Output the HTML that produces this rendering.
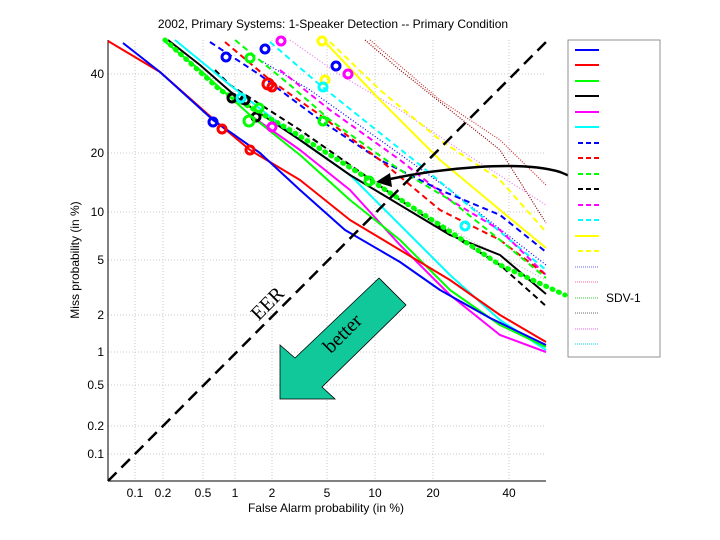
<!DOCTYPE html>
<html><head><meta charset="utf-8"><style>
html,body{margin:0;padding:0;background:#fff;}
svg{display:block;font-family:"Liberation Sans",sans-serif;}
</style></head><body>
<svg width="720" height="540" viewBox="0 0 720 540" xmlns="http://www.w3.org/2000/svg">
<rect width="720" height="540" fill="#fff"/>
<text x="333" y="28" font-size="12" text-anchor="middle">2002, Primary Systems: 1-Speaker Detection -- Primary Condition</text>
<!-- grid -->
<g stroke="#bbb" stroke-width="0.8" stroke-dasharray="1,2">
<line x1="135" y1="40" x2="135" y2="481"/><line x1="163" y1="40" x2="163" y2="481"/>
<line x1="203" y1="40" x2="203" y2="481"/><line x1="235" y1="40" x2="235" y2="481"/>
<line x1="272" y1="40" x2="272" y2="481"/><line x1="327" y1="40" x2="327" y2="481"/>
<line x1="375" y1="40" x2="375" y2="481"/><line x1="433" y1="40" x2="433" y2="481"/>
<line x1="509" y1="40" x2="509" y2="481"/>
<line x1="108" y1="74" x2="546" y2="74"/><line x1="108" y1="153" x2="546" y2="153"/>
<line x1="108" y1="212" x2="546" y2="212"/><line x1="108" y1="260" x2="546" y2="260"/>
<line x1="108" y1="315" x2="546" y2="315"/><line x1="108" y1="352" x2="546" y2="352"/>
<line x1="108" y1="385" x2="546" y2="385"/><line x1="108" y1="426" x2="546" y2="426"/>
<line x1="108" y1="454" x2="546" y2="454"/>
</g>
<g stroke="#000" stroke-width="1">
<line x1="108" y1="40" x2="108" y2="481"/><line x1="108" y1="481" x2="546" y2="481"/>
</g>
<g font-size="12" text-anchor="middle">
<text x="135" y="497">0.1</text><text x="163" y="497">0.2</text><text x="203" y="497">0.5</text>
<text x="235" y="497">1</text><text x="272" y="497">2</text><text x="327" y="497">5</text>
<text x="375" y="497">10</text><text x="433" y="497">20</text><text x="509" y="497">40</text>
</g>
<g font-size="12" text-anchor="end">
<text x="104" y="78">40</text><text x="104" y="157">20</text><text x="104" y="216">10</text>
<text x="104" y="264">5</text><text x="104" y="319">2</text><text x="104" y="356">1</text>
<text x="104" y="389">0.5</text><text x="104" y="430">0.2</text><text x="104" y="458">0.1</text>
</g>
<text x="326" y="512" font-size="12" text-anchor="middle">False Alarm probability (in %)</text>
<text transform="translate(79,260) rotate(-90)" font-size="12" text-anchor="middle">Miss probability (in %)</text>

<!-- curves -->
<g fill="none" stroke-width="2" stroke-linejoin="round">
<polyline stroke="#bbb" stroke-dasharray="1,2" stroke-width="1.2" points="200,70 260,110 330,150 400,200 470,240 546,280"/>
<polyline stroke="#800" stroke-dasharray="1,1.5" stroke-width="1.2" points="365,40 400,70 450,110 500,150 546,223"/>
<polyline stroke="#c33" stroke-dasharray="1,1.5" stroke-width="1.2" points="370,40 440,100 500,140 546,185"/>
<polyline stroke="#e7e" stroke-dasharray="1,2" stroke-width="1.2" points="290,40 340,75 400,110 460,150 546,205"/>
<polyline stroke="#00f" stroke-dasharray="1,2" stroke-width="1.2" points="260,60 310,90 380,140 450,190 546,265"/>
<polyline stroke="#ff0" points="325,42 380,100 440,160 500,210 546,248"/>
<polyline stroke="#ff0" stroke-dasharray="6,4" points="330,42 380,90 440,140 500,180 546,232"/>
<polyline stroke="#0ff" stroke-dasharray="6,4" points="270,42 320,85 370,125 420,165 480,215 546,270"/>
<polyline stroke="#f0f" stroke-dasharray="6,4" points="280,70 330,110 400,160 450,200 500,230 546,275"/>
<polyline stroke="#00f" stroke-dasharray="6,4" points="210,42 260,75 320,120 380,160 440,190 500,215 546,252"/>
<polyline stroke="#f00" stroke-dasharray="6,4" points="225,42 270,80 320,115 380,160 440,210 500,240 546,275"/>
<polyline stroke="#0f0" stroke-dasharray="6,4" points="235,40 290,85 330,120 400,170 450,200 500,240 546,278"/>
<polyline stroke="#000" stroke-dasharray="6,4" points="215,70 230,85 300,130 400,200 460,240 500,265 546,306"/>
<polyline stroke="#0ff" points="175,40 230,85 300,140 350,175 400,225 450,275 500,320 546,350"/>
<polyline stroke="#f0f" points="250,115 300,150 350,190 400,245 450,295 500,335 546,352"/>
<polyline stroke="#000" points="168,40 200,65 240,100 300,140 350,175 400,205 450,235 500,255 546,294"/>
<polyline stroke="#0f0" points="163,40 200,70 250,115 300,155 350,200 400,240 450,290 500,325 546,347"/>
<polyline stroke="#f00" points="108,41 160,72 220,125 250,150 300,180 350,220 400,250 450,280 500,315 546,342"/>
<polyline stroke="#00f" points="123,43 160,72 213,120 260,153 300,190 345,230 400,262 440,290 490,318 546,345"/>
<polyline stroke="#0f0" stroke-dasharray="1,6" stroke-width="5" stroke-linecap="round" points="165,40 220,90 290,130 370,180 440,225 500,265 565,295"/>
</g>
<!-- markers -->
<g fill="none" stroke-width="3">
<circle cx="226" cy="57" r="4" stroke="#00f"/><circle cx="265" cy="49" r="4" stroke="#00f"/>
<circle cx="336" cy="66" r="4" stroke="#00f"/><circle cx="213" cy="122" r="4" stroke="#00f"/>
<circle cx="281" cy="41" r="4" stroke="#f0f"/><circle cx="348" cy="74" r="4" stroke="#f0f"/>
<circle cx="322" cy="41" r="4" stroke="#ff0"/><circle cx="325" cy="80" r="4" stroke="#ff0"/>
<circle cx="222" cy="129" r="4" stroke="#f00"/><circle cx="250" cy="150" r="4" stroke="#f00"/>
<circle cx="268" cy="84" r="5" stroke="#f00"/><circle cx="272" cy="87" r="4" stroke="#f00"/>
<circle cx="232" cy="98" r="4" stroke="#000"/><circle cx="256" cy="117" r="4" stroke="#000"/>
<circle cx="245" cy="100" r="4" stroke="#000"/><circle cx="250" cy="58" r="4" stroke="#0f0"/>
<circle cx="249" cy="121" r="5" stroke="#0f0"/><circle cx="259" cy="108" r="4" stroke="#0f0"/>
<circle cx="241" cy="98" r="4" stroke="#0ff"/><circle cx="323" cy="87" r="4" stroke="#0ff"/>
<circle cx="272" cy="127" r="4" stroke="#f0f"/><circle cx="465" cy="226" r="4" stroke="#0ff"/>
<circle cx="369" cy="181" r="4" stroke="#0f0"/><circle cx="323" cy="121" r="4" stroke="#0f0"/>
</g>
<!-- EER line -->
<line x1="108" y1="481" x2="546" y2="42" stroke="#000" stroke-width="2.5" stroke-dasharray="12,7"/>
<text transform="translate(272,308) rotate(-45)" font-family="Liberation Serif,serif" font-size="20" text-anchor="middle">EER</text>
<!-- better arrow -->
<polygon points="280,399 280,345 295,358 379,278 406,305 322,387 335,399" fill="#10c89a" stroke="#000" stroke-width="0.8"/>
<text transform="translate(347,338) rotate(-45)" font-family="Liberation Serif,serif" font-size="20" text-anchor="middle">better</text>
<!-- curved arrow -->
<path d="M617,290 C612,240 610,190 560,172 C520,160 440,168 385,180" fill="none" stroke="#000" stroke-width="2.5"/>
<polygon points="376,182 390,173 392,187" fill="#000"/>
<!-- legend -->
<rect x="568" y="40" width="92" height="317" fill="#fff" stroke="#777" stroke-width="0.8"/>
<g stroke-width="2">
<line x1="575" x2="599" y1="50" y2="50" stroke="#00f"/>
<line x1="575" x2="599" y1="65" y2="65" stroke="#f00"/>
<line x1="575" x2="599" y1="81" y2="81" stroke="#0f0"/>
<line x1="575" x2="599" y1="96" y2="96" stroke="#000"/>
<line x1="575" x2="599" y1="112" y2="112" stroke="#f0f"/>
<line x1="575" x2="599" y1="127" y2="127" stroke="#0ff"/>
<line x1="578" x2="599" y1="143" y2="143" stroke="#00f" stroke-dasharray="5,3"/>
<line x1="578" x2="599" y1="158" y2="158" stroke="#f00" stroke-dasharray="5,3"/>
<line x1="578" x2="599" y1="174" y2="174" stroke="#0f0" stroke-dasharray="5,3"/>
<line x1="578" x2="599" y1="189" y2="189" stroke="#000" stroke-dasharray="5,3"/>
<line x1="578" x2="599" y1="205" y2="205" stroke="#f0f" stroke-dasharray="5,3"/>
<line x1="578" x2="599" y1="220" y2="220" stroke="#0ff" stroke-dasharray="5,3"/>
<line x1="575" x2="599" y1="236" y2="236" stroke="#ff0"/>
<line x1="578" x2="599" y1="251" y2="251" stroke="#ff0" stroke-dasharray="5,3"/>
<g stroke-width="1" stroke-dasharray="1,1">
<line x1="575" x2="598" y1="267" y2="267" stroke="#66f"/>
<line x1="575" x2="598" y1="282" y2="282" stroke="#f69"/>
<line x1="575" x2="598" y1="298" y2="298" stroke="#3c3"/>
<line x1="575" x2="598" y1="313" y2="313" stroke="#666"/>
<line x1="575" x2="598" y1="329" y2="329" stroke="#e6e"/>
<line x1="575" x2="598" y1="344" y2="344" stroke="#0dd"/>
</g></g>
<text x="606" y="302" font-size="12">SDV-1</text>
</svg>
</body></html>
